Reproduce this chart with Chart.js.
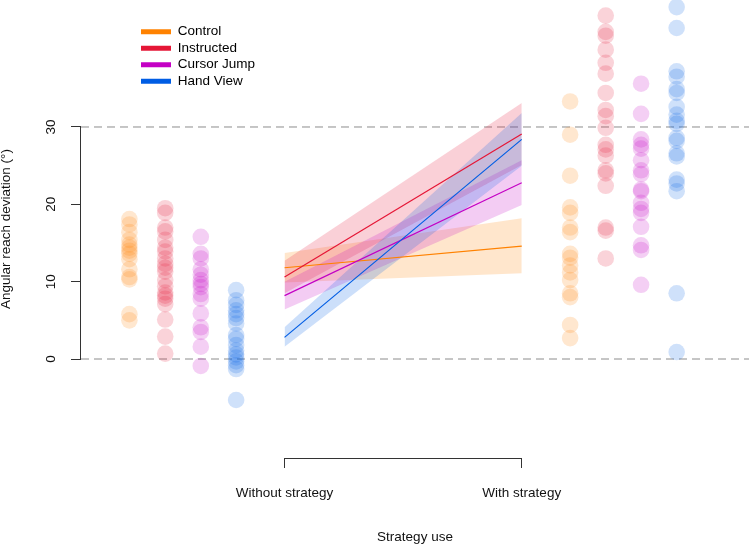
<!DOCTYPE html>
<html>
<head>
<meta charset="utf-8">
<script src="https://cdn.jsdelivr.net/npm/chart.js@4.4.1/dist/chart.umd.min.js"></script>
<style>
  html, body { margin: 0; padding: 0; background: #fff; }
  #chart { display: block; }
</style>
</head>
<body>
<canvas id="chart" width="749" height="545"></canvas>
<script>
const groups = ['Control', 'Instructed', 'Cursor Jump', 'Hand View'];
const groupColors = ['#ff8200', '#e51636', '#c400c4', '#005de4'];

// individual participants (degrees), without strategy
const controlWithout = [18.1, 17.4, 16.4, 15.4, 14.8, 14.4, 14.0, 13.6, 12.9, 11.6, 10.6, 10.3, 5.8, 5.0];
const instructedWithout = [19.5, 18.9, 17.0, 16.5, 15.4, 14.4, 13.9, 13.0, 12.3, 11.8, 11.3, 10.2, 9.4, 8.6, 8.2, 7.8, 7.1, 5.1, 2.9, 0.7];
const cursorJumpWithout = [15.8, 13.6, 13.0, 11.6, 10.9, 10.2, 9.7, 9.3, 8.4, 7.8, 5.9, 4.1, 3.5, 1.6, -0.9];
const handViewWithout = [8.9, 7.6, 7.0, 6.3, 5.8, 5.3, 4.6, 3.1, 2.6, 1.8, 1.1, 0.6, 0.2, -0.3, -0.8, -1.3, -5.3];

// individual participants (degrees), with strategy
const controlWith = [33.3, 29.0, 23.7, 19.6, 18.9, 17.0, 16.4, 13.6, 13.1, 12.1, 11.2, 10.2, 8.5, 8.0, 4.4, 2.7];
const instructedWith = [44.4, 42.3, 41.8, 40.0, 38.3, 36.9, 34.4, 32.2, 31.4, 29.9, 27.7, 27.1, 26.3, 24.4, 24.0, 22.4, 17.0, 16.6, 13.0];
const cursorJumpWith = [35.6, 31.7, 28.4, 27.7, 27.2, 25.7, 24.4, 23.9, 21.9, 21.7, 20.2, 19.4, 18.9, 17.1, 14.7, 14.1, 9.6];
const handViewWith = [45.5, 42.8, 37.2, 36.5, 34.9, 34.4, 32.6, 31.6, 30.8, 30.4, 28.6, 28.2, 26.6, 26.2, 23.2, 22.7, 21.7, 8.5, 0.9];

// model fits with confidence band at the two strategy levels
const fitWithout = [11.8, 10.6, 8.2, 2.8];
const fitWith = [14.6, 29.1, 22.8, 28.4];
const ciLowWithout = [9.9, 8.5, 6.4, 1.6];
const ciHighWithout = [13.7, 12.7, 10.0, 4.1];
const ciLowWith = [11.1, 25.1, 19.9, 25.0];
const ciHighWith = [18.2, 33.1, 25.7, 31.8];

const yTicks = [0, 10, 20, 30];
const refLines = [0, 30];
const xTickValues = [0, 1];
const xTickLabels = ['Without strategy', 'With strategy'];

// where the strips of dots sit on the x scale
const stripsWithout = [-0.654, -0.503, -0.353, -0.204];
const stripsWith = [1.204, 1.354, 1.503, 1.653];
const xMin = -0.858, xMax = 1.958;
const yMin = -12.8, yMax = 46.42;

const withoutByGroup = [controlWithout, instructedWithout, cursorJumpWithout, handViewWithout];
const withByGroup = [controlWith, instructedWith, cursorJumpWith, handViewWith];

function alpha(hex, a) {
  const n = parseInt(hex.slice(1), 16);
  return `rgba(${(n >> 16) & 255}, ${(n >> 8) & 255}, ${n & 255}, ${a})`;
}

const datasets = [];

// dashed reference lines at 0 and 30
refLines.forEach((v) => {
  datasets.push({
    type: 'line',
    data: [{ x: xMin, y: v }, { x: xMax, y: v }],
    borderColor: '#8c8c8c',
    borderWidth: 1,
    borderDash: [8, 5],
    pointRadius: 0,
    fill: false,
    order: 40,
  });
});

// individual dots
groups.forEach((g, i) => {
  const pts = withoutByGroup[i].map((v) => ({ x: stripsWithout[i], y: v }))
    .concat(withByGroup[i].map((v) => ({ x: stripsWith[i], y: v })));
  datasets.push({
    type: 'scatter',
    data: pts,
    pointRadius: 8.3,
    pointBackgroundColor: alpha(groupColors[i], 0.19),
    pointBorderWidth: 0,
    borderColor: 'rgba(0,0,0,0)',
    order: 30 - i,
  });
});

// confidence bands: upper edge filled down to lower edge
groups.forEach((g, i) => {
  const upperIndex = datasets.length;
  datasets.push({
    type: 'line',
    data: [{ x: 0, y: ciHighWithout[i] }, { x: 1, y: ciHighWith[i] }],
    borderColor: 'rgba(0,0,0,0)',
    borderWidth: 0,
    pointRadius: 0,
    backgroundColor: alpha(groupColors[i], 0.2),
    fill: upperIndex + 1,
    order: 20 - i,
  });
  datasets.push({
    type: 'line',
    data: [{ x: 0, y: ciLowWithout[i] }, { x: 1, y: ciLowWith[i] }],
    borderColor: 'rgba(0,0,0,0)',
    borderWidth: 0,
    pointRadius: 0,
    fill: false,
    order: 20 - i,
  });
});

// fitted lines
groups.forEach((g, i) => {
  datasets.push({
    type: 'line',
    label: g,
    data: [{ x: 0, y: fitWithout[i] }, { x: 1, y: fitWith[i] }],
    borderColor: groupColors[i],
    borderWidth: 1.2,
    pointRadius: 0,
    fill: false,
    order: 10 - i,
  });
});

// axis lines only span the tick range, like base R
const axisLines = {
  id: 'axisLines',
  afterDatasetsDraw(chart) {
    const { ctx, chartArea, scales: { x, y } } = chart;
    const ax = Math.round(chartArea.left) - 0.5;
    const ay = Math.round(chartArea.bottom) + 0.5;
    ctx.save();
    ctx.strokeStyle = '#333';
    ctx.lineWidth = 1;
    ctx.beginPath();
    ctx.moveTo(ax, y.getPixelForValue(yTicks[0]));
    ctx.lineTo(ax, y.getPixelForValue(yTicks[yTicks.length - 1]));
    ctx.moveTo(x.getPixelForValue(xTickValues[0]), ay);
    ctx.lineTo(x.getPixelForValue(xTickValues[xTickValues.length - 1]), ay);
    ctx.stroke();
    ctx.restore();
  },
};

// move the in-plot legend to its spot
const legendSpot = {
  id: 'legendSpot',
  afterLayout(chart) {
    chart.legend.left = 138;
    chart.legend.top = 22;
  },
};

// no extra room for the end labels, the plot fills the canvas
function noPadding(axis) {
  axis.paddingTop = 0;
  axis.paddingBottom = 0;
  axis.paddingLeft = 0;
  axis.paddingRight = 0;
}

Chart.defaults.font.family = '"Liberation Sans", Arial, sans-serif';
Chart.defaults.font.size = 13.5;
Chart.defaults.color = '#111';

new Chart(document.getElementById('chart'), {
  type: 'scatter',
  data: { datasets },
  options: {
    responsive: false,
    animation: false,
    events: [],
    devicePixelRatio: 1,
    layout: { padding: 0, autoPadding: false },
    scales: {
      x: {
        type: 'linear',
        min: xMin,
        max: xMax,
        afterBuildTicks: (axis) => { axis.ticks = xTickValues.map((v) => ({ value: v })); },
        afterFit: (axis) => { axis.height = 87; noPadding(axis); },
        ticks: {
          padding: 17,
          maxRotation: 0,
          autoSkip: false,
          callback: (v) => xTickLabels[xTickValues.indexOf(v)],
        },
        grid: { drawOnChartArea: false, drawTicks: true, tickLength: 10, color: '#333' },
        border: { display: false },
        title: { display: true, text: 'Strategy use', padding: 0, font: { size: 13.5 } },
      },
      y: {
        type: 'linear',
        min: yMin,
        max: yMax,
        afterBuildTicks: (axis) => { axis.ticks = yTicks.map((v) => ({ value: v })); },
        afterFit: (axis) => { axis.width = 81; noPadding(axis); },
        ticks: {
          minRotation: 90,
          maxRotation: 90,
          crossAlign: 'center',
          padding: 12,
          autoSkip: false,
        },
        grid: { drawOnChartArea: false, drawTicks: true, tickLength: 10, color: '#333' },
        border: { display: false },
        title: {
          display: true,
          text: 'Angular reach deviation (°)',
          padding: 0,
          font: { size: 13.5, lineHeight: 1 },
        },
      },
    },
    plugins: {
      tooltip: { enabled: false },
      legend: {
        position: 'chartArea',
        align: 'start',
        labels: {
          boxWidth: 30,
          boxHeight: 5,
          padding: 3,
          color: '#111',
          generateLabels: () => groups.map((g, i) => ({
            text: g,
            fillStyle: groupColors[i],
            strokeStyle: groupColors[i],
            lineWidth: 0,
            hidden: false,
          })),
        },
      },
    },
  },
  plugins: [axisLines, legendSpot],
});
</script>
</body>
</html>
